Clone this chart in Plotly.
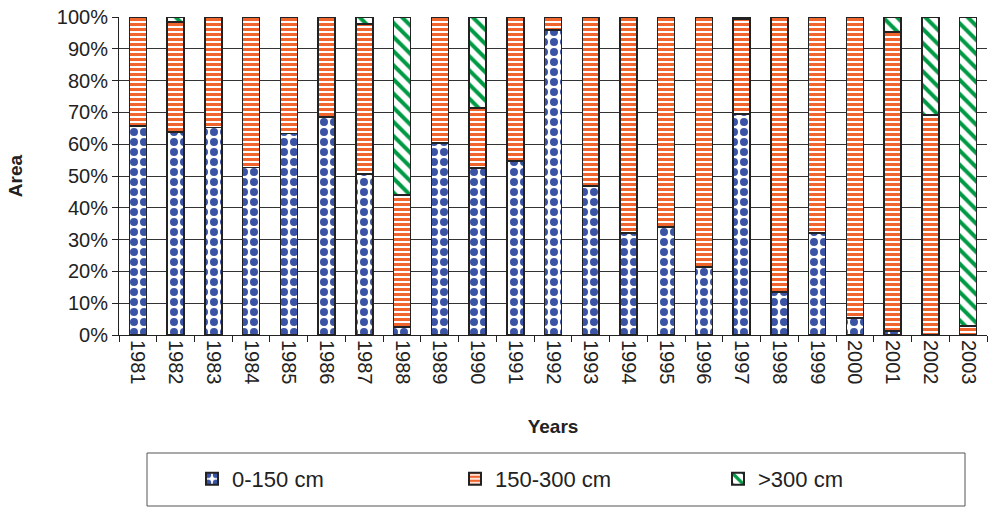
import plotly.graph_objects as go

years = [str(y) for y in range(1981, 2004)]
low = [65.8, 63.8, 65.3, 52.6, 63.4, 68.6, 50.6, 2.5, 60.4, 52.5, 54.7, 95.9,
       46.9, 32.0, 34.0, 21.4, 69.5, 13.5, 32.0, 5.3, 1.3, 0.0, 0.0]
high = [0.0, 1.5, 0.0, 0.0, 0.0, 0.0, 2.2, 56.0, 0.0, 28.6, 0.0, 0.0,
        0.0, 0.0, 0.0, 0.0, 0.7, 0.0, 0.0, 0.0, 4.7, 30.8, 97.2]
mid = [round(100 - a - b, 1) for a, b in zip(low, high)]

series = [
    ("0-150 cm", low, dict(shape=".", fgcolor="#3A53A4", bgcolor="white", fgopacity=1, size=10, solidity=0.5)),
    ("150-300 cm", mid, dict(shape="-", fgcolor="#F0642E", bgcolor="white", fgopacity=1, size=5, solidity=0.6)),
    (">300 cm", high, dict(shape="\\", fgcolor="#009A44", bgcolor="white", fgopacity=1, size=10, solidity=0.4)),
]

fig = go.Figure()
for name, vals, pat in series:
    fig.add_trace(go.Bar(
        x=years, y=vals, name=name,
        marker=dict(color="white", pattern=pat, line=dict(color="#222222", width=1.5)),
    ))

font = "Liberation Sans, Arial, sans-serif"
# plot area: x 119..987, y 17..335 (318 px)
H = 318.0
def py(pix):
    return (335 - pix) / H

fig.add_shape(type="rect", xref="paper", yref="paper",
              x0=(147 - 119) / 868, x1=(965 - 119) / 868, y0=py(453), y1=py(506),
              line=dict(color="#555555", width=1), fillcolor="white", layer="below")

fig.update_layout(
    barmode="stack",
    bargap=0.55,
    width=993, height=507,
    margin=dict(l=119, r=6, t=17, b=172, autoexpand=False),
    paper_bgcolor="white", plot_bgcolor="white",
    font=dict(family=font, size=20, color="#222222"),
    showlegend=True,
    legend=dict(
        orientation="h", x=(192 - 119) / 868, xanchor="left", y=py(479), yanchor="middle",
        bgcolor="rgba(0,0,0,0)", borderwidth=0,
        font=dict(size=22, family=font), entrywidth=218, entrywidthmode="pixels",
        itemsizing="constant", traceorder="normal",
    ),
    xaxis=dict(
        type="category", tickangle=90, tickson="boundaries",
        ticks="outside", ticklen=6, tickcolor="#222222",
        showline=True, linecolor="#222222", linewidth=1,
        tickfont=dict(size=20),
        title=dict(text="<b>Years</b>", font=dict(size=19), standoff=36),
        automargin=False,
    ),
    yaxis=dict(
        range=[0, 100], dtick=10, ticksuffix="%",
        ticks="outside", ticklen=6, tickcolor="#222222",
        showline=True, linecolor="#222222", linewidth=1,
        showgrid=True, gridcolor="#333333", gridwidth=1,
        tickfont=dict(size=20),
        title=dict(text="<b>Area</b>", font=dict(size=19), standoff=29),
        zeroline=False, automargin=False,
    ),
)

fig.write_html("out.html")
